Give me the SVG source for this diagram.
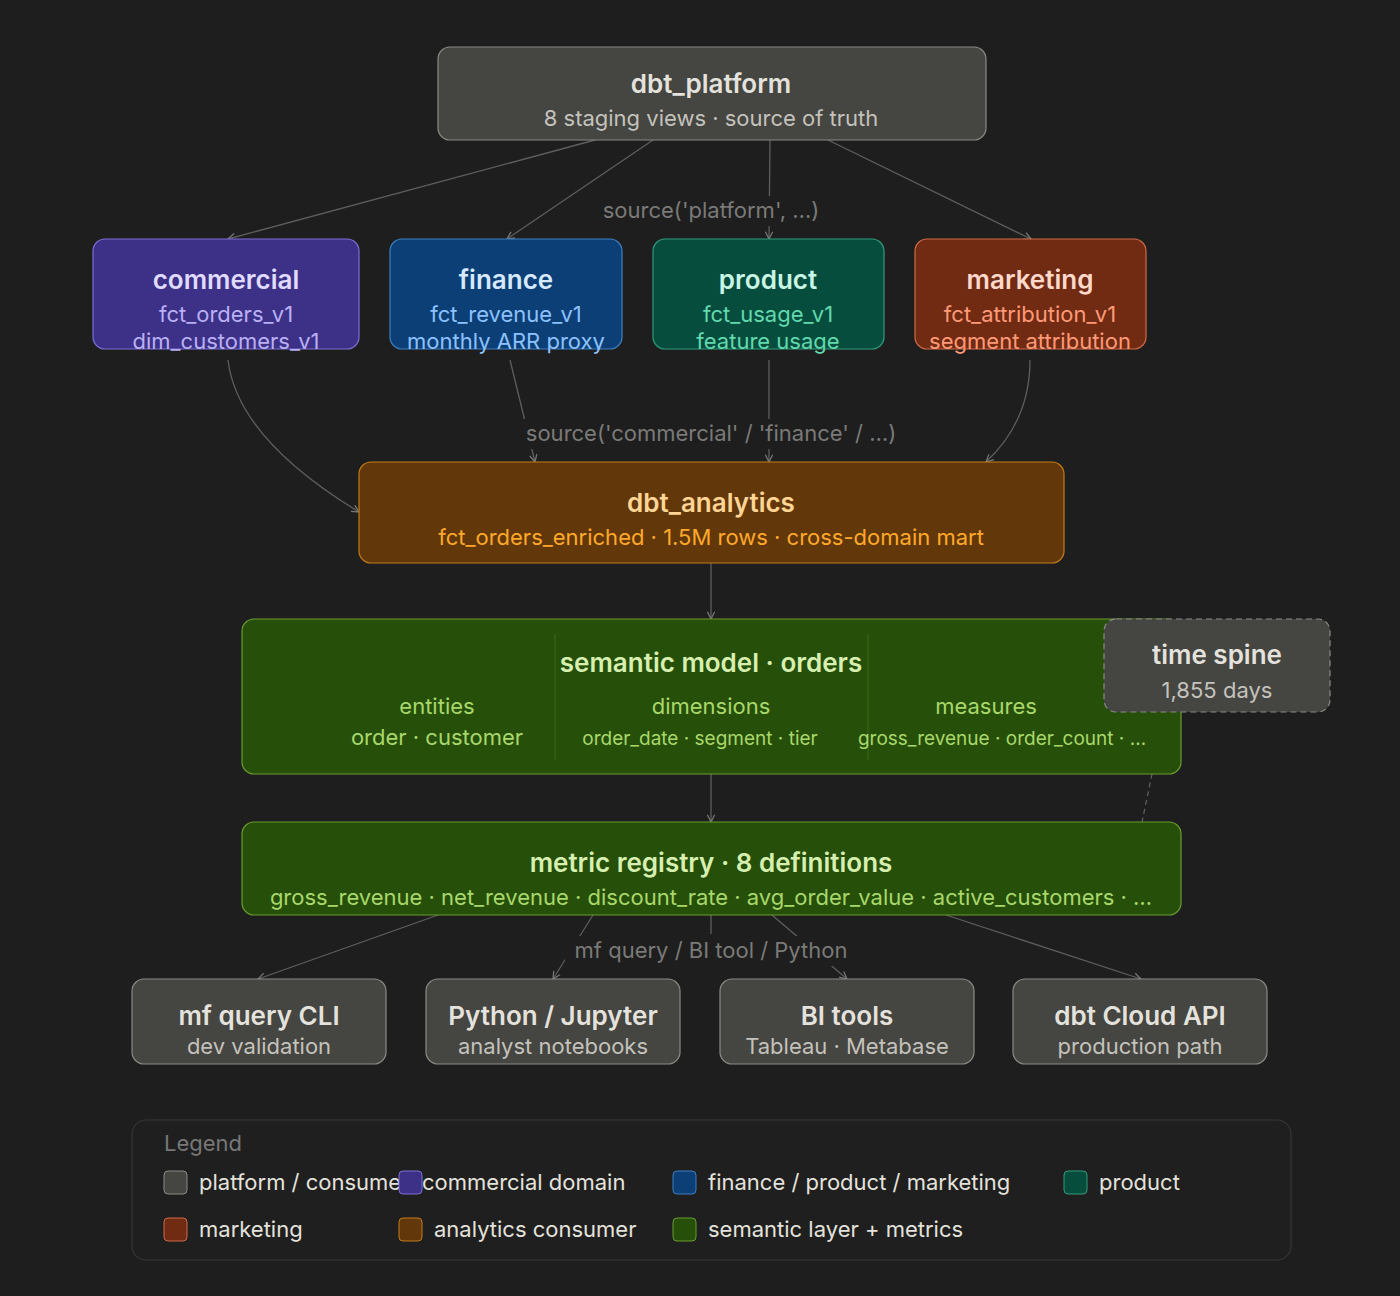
<svg xmlns="http://www.w3.org/2000/svg" width="1400" height="1296" viewBox="0 0 1400 1296">
<defs>
<marker id="ah" viewBox="0 0 10 10" refX="9" refY="5" markerWidth="7" markerHeight="7" orient="auto-start-reverse"><path d="M1,1 L9,5 L1,9" fill="none" stroke="#777" stroke-width="1.4"/></marker>
<style>
text{font-family:Inter,"Noto Sans","Liberation Sans",sans-serif;text-anchor:middle}
.t{font-size:26px;font-weight:600}
.s{font-size:22px}
.e{fill:none;stroke:#5e5e5c;stroke-width:1.3}
.lbl{font-size:22px;fill:#7a7a78}
.lg{font-size:22px;fill:#e4e2dc;text-anchor:start}
.gr{fill:#454541;stroke:#8a8a85;stroke-width:1.2}
</style>
</defs>
<rect width="1400" height="1296" fill="#1e1e1e"/>
<g id="connectors">
<path class="e" d="M595,140 L228,239" marker-end="url(#ah)"/>
<path class="e" d="M653,140 L507,239" marker-end="url(#ah)"/>
<path class="e" d="M770,140 L769,239" marker-end="url(#ah)"/>
<path class="e" d="M828,140 L1031,239" marker-end="url(#ah)"/>
<path class="e" d="M228,360 C235,420 290,470 359,512" marker-end="url(#ah)"/>
<path class="e" d="M510,360 L535,462" marker-end="url(#ah)"/>
<path class="e" d="M769,360 L769,462" marker-end="url(#ah)"/>
<path class="e" d="M1030,360 C1030,400 1015,435 986,462" marker-end="url(#ah)"/>
<path class="e" d="M711,563 L711,619" marker-end="url(#ah)"/>
<path class="e" d="M711,774 L711,822" marker-end="url(#ah)"/>
<path class="e" d="M1165,712 L1142,822" stroke-dasharray="5,4"/>
<path class="e" d="M438,915 L258,979" marker-end="url(#ah)"/>
<path class="e" d="M593,915 L553,979" marker-end="url(#ah)"/>
<path class="e" d="M711,915 L711,934"/>
<path class="e" d="M772,915 L847,979" marker-end="url(#ah)"/>
<path class="e" d="M946,915 L1141,979" marker-end="url(#ah)"/>
<rect x="590" y="196" width="242" height="30" fill="#1e1e1e"/>
<text class="lbl" x="711" y="218">source('platform', …)</text>
<rect x="515" y="419" width="392" height="30" fill="#1e1e1e"/>
<text class="lbl" x="711" y="441">source('commercial' / 'finance' / …)</text>
<rect x="565" y="936" width="292" height="30" fill="#1e1e1e"/>
<text class="lbl" x="711" y="958">mf query / BI tool / Python</text>
</g>
<g id="dbt_platform">
<rect class="gr" x="438" y="47" width="548" height="93" rx="12"/>
<text class="t" x="711" y="93" fill="#e4e2dc">dbt_platform</text>
<text class="s" x="711" y="126" fill="#c4c2bc">8 staging views · source of truth</text>
</g>
<g id="commercial">
<rect x="93" y="239" width="266" height="110" rx="12" fill="#3d3187" stroke="#7c6fd6" stroke-width="1.2"/>
<text class="t" x="226" y="289" fill="#e0dcff">commercial</text>
<text class="s" x="226" y="322" fill="#b9b0f5">fct_orders_v1</text>
<text class="s" x="226" y="349" fill="#b9b0f5">dim_customers_v1</text>
</g>
<g id="finance">
<rect x="390" y="239" width="232" height="110" rx="12" fill="#0b3f75" stroke="#3e7fc2" stroke-width="1.2"/>
<text class="t" x="506" y="289" fill="#d7e9ff">finance</text>
<text class="s" x="506" y="322" fill="#8dc2ff">fct_revenue_v1</text>
<text class="s" x="506" y="349" fill="#8dc2ff">monthly ARR proxy</text>
</g>
<g id="product">
<rect x="653" y="239" width="231" height="110" rx="12" fill="#074d3d" stroke="#2f9c7d" stroke-width="1.2"/>
<text class="t" x="768" y="289" fill="#c9f5e6">product</text>
<text class="s" x="768" y="322" fill="#62d9ae">fct_usage_v1</text>
<text class="s" x="768" y="349" fill="#62d9ae">feature usage</text>
</g>
<g id="marketing">
<rect x="915" y="239" width="231" height="110" rx="12" fill="#712b12" stroke="#d06a48" stroke-width="1.2"/>
<text class="t" x="1030" y="289" fill="#ffd9cc">marketing</text>
<text class="s" x="1030" y="322" fill="#ff9a78">fct_attribution_v1</text>
<text class="s" x="1030" y="349" fill="#ff9a78">segment attribution</text>
</g>
<g id="dbt_analytics">
<rect x="359" y="462" width="705" height="101" rx="12" fill="#62380a" stroke="#c47a1a" stroke-width="1.2"/>
<text class="t" x="711" y="512" fill="#ffd595">dbt_analytics</text>
<text class="s" x="711" y="545" fill="#ffa92c">fct_orders_enriched · 1.5M rows · cross-domain mart</text>
</g>
<g id="semantic_model">
<rect x="242" y="619" width="939" height="155" rx="12" fill="#264f0a" stroke="#6a9c2e" stroke-width="1.2"/>
<path d="M555,634 V760 M868,634 V760" stroke="#3a6a1a" stroke-width="1"/>
<text class="t" x="711" y="672" fill="#d7f0b0">semantic model · orders</text>
<text class="s" x="437" y="714" fill="#a9d86a">entities</text>
<text class="s" x="437" y="745" fill="#a9d86a">order · customer</text>
<text class="s" x="711" y="714" fill="#a9d86a">dimensions</text>
<text x="700" y="745" fill="#a9d86a" style="font-size:19px">order_date · segment · tier</text>
<text class="s" x="986" y="714" fill="#a9d86a">measures</text>
<text x="1002" y="745" fill="#a9d86a" style="font-size:19px">gross_revenue · order_count · …</text>
</g>
<g id="time_spine">
<rect x="1104" y="619" width="226" height="93" rx="12" fill="#454541" stroke="#8a8a85" stroke-width="1.2" stroke-dasharray="6,4"/>
<text class="t" x="1217" y="664" fill="#e4e2dc">time spine</text>
<text class="s" x="1217" y="698" fill="#c4c2bc">1,855 days</text>
</g>
<g id="metric_registry">
<rect x="242" y="822" width="939" height="93" rx="12" fill="#264f0a" stroke="#6a9c2e" stroke-width="1.2"/>
<text class="t" x="711" y="872" fill="#d7f0b0">metric registry · 8 definitions</text>
<text class="s" x="711" y="905" fill="#a9d86a">gross_revenue · net_revenue · discount_rate · avg_order_value · active_customers · …</text>
</g>
<g id="mf_query_cli">
<rect class="gr" x="132" y="979" width="254" height="85" rx="12"/>
<text class="t" x="259" y="1025" fill="#e4e2dc">mf query CLI</text>
<text class="s" x="259" y="1054" fill="#c4c2bc">dev validation</text>
</g>
<g id="python_jupyter">
<rect class="gr" x="426" y="979" width="254" height="85" rx="12"/>
<text class="t" x="553" y="1025" fill="#e4e2dc">Python / Jupyter</text>
<text class="s" x="553" y="1054" fill="#c4c2bc">analyst notebooks</text>
</g>
<g id="bi_tools">
<rect class="gr" x="720" y="979" width="254" height="85" rx="12"/>
<text class="t" x="847" y="1025" fill="#e4e2dc">BI tools</text>
<text class="s" x="847" y="1054" fill="#c4c2bc">Tableau · Metabase</text>
</g>
<g id="dbt_cloud_api">
<rect class="gr" x="1013" y="979" width="254" height="85" rx="12"/>
<text class="t" x="1140" y="1025" fill="#e4e2dc">dbt Cloud API</text>
<text class="s" x="1140" y="1054" fill="#c4c2bc">production path</text>
</g>
<g id="legend">
<rect x="132" y="1120" width="1159" height="140" rx="14" fill="#1f1f1f" stroke="#363636" stroke-width="1.2"/>
<text x="164" y="1151" style="font-size:22px;fill:#777;text-anchor:start">Legend</text>
<text class="lg" x="199" y="1190">platform / consumers</text>
<rect x="164" y="1171" width="23" height="23" rx="4" fill="#454541" stroke="#8a8a85"/>
<rect x="399" y="1171" width="23" height="23" rx="4" fill="#3d3187" stroke="#7c6fd6"/>
<text class="lg" x="422" y="1190">commercial domain</text>
<rect x="673" y="1171" width="23" height="23" rx="4" fill="#0b3f75" stroke="#3e7fc2"/>
<text class="lg" x="708" y="1190">finance / product / marketing</text>
<rect x="1064" y="1171" width="23" height="23" rx="4" fill="#074d3d" stroke="#2f9c7d"/>
<text class="lg" x="1099" y="1190">product</text>
<rect x="164" y="1218" width="23" height="23" rx="4" fill="#712b12" stroke="#d06a48"/>
<text class="lg" x="199" y="1237">marketing</text>
<rect x="399" y="1218" width="23" height="23" rx="4" fill="#62380a" stroke="#c47a1a"/>
<text class="lg" x="434" y="1237">analytics consumer</text>
<rect x="673" y="1218" width="23" height="23" rx="4" fill="#264f0a" stroke="#6a9c2e"/>
<text class="lg" x="708" y="1237">semantic layer + metrics</text>
</g>
</svg>
